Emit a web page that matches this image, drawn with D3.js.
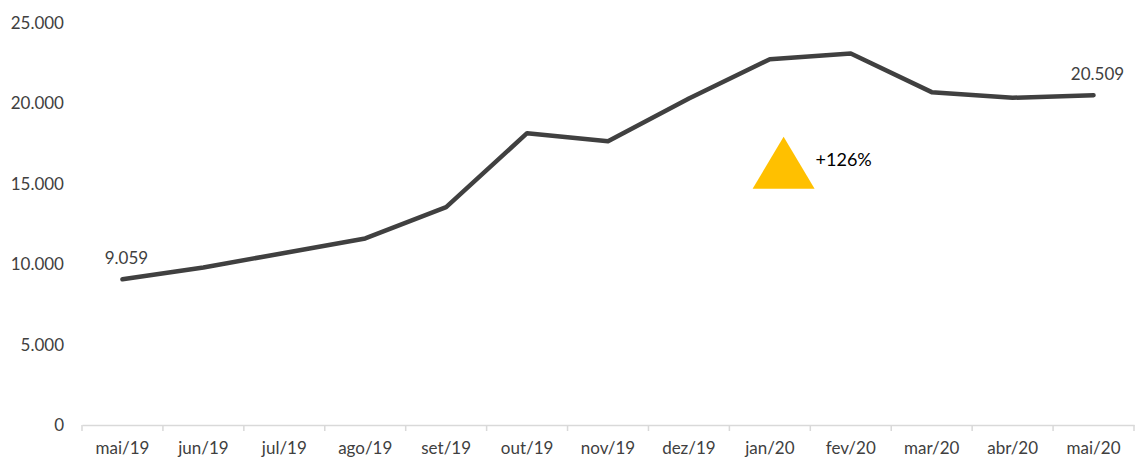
<!DOCTYPE html>
<html>
<head>
<meta charset="utf-8">
<script src="https://cdn.jsdelivr.net/npm/d3@7"></script>
<style>
  body { margin: 0; background: #fff; }
  text { font-family: Lato, "Open Sans", sans-serif; }
</style>
</head>
<body>
<div id="chart"></div>
<script>
var months = ["mai/19", "jun/19", "jul/19", "ago/19", "set/19", "out/19", "nov/19",
              "dez/19", "jan/20", "fev/20", "mar/20", "abr/20", "mai/20"]
var values = [9059, 9800, 10700, 11600, 13550, 18150, 17650,
              20300, 22750, 23100, 20700, 20350, 20509]
var yTicks = [0, 5000, 10000, 15000, 20000, 25000]
var growthLabel = "+126%"

var width = 1136, height = 457
var margin = {top: 23, right: 2, bottom: 32, left: 82}

var locale = d3.formatLocale({decimal: ",", thousands: ".", grouping: [3], currency: ["R$", ""]})
var fmt = locale.format(",d")

var svg = d3.select("#chart")
  .append("svg")
    .attr("width", width)
    .attr("height", height)

var x = d3.scaleBand()
  .domain(months)
  .range([margin.left, width - margin.right])

var y = d3.scaleLinear()
  .domain([0, 25000])
  .range([height - margin.bottom, margin.top])

// x axis: light gray baseline with ticks between categories
var xAxis = svg.append("g")
  .attr("transform", "translate(0," + y(0) + ")")
  .call(d3.axisBottom(x).tickSize(0).tickPadding(17))
xAxis.select(".domain").attr("stroke", "#d9d9d9").attr("stroke-width", 1.5)
xAxis.selectAll("text")
  .attr("fill", "#404040")
  .attr("font-size", "17px")

var bounds = months.map(function(m) { return x(m) }).concat([x.range()[1]])
xAxis.selectAll(".sep")
  .data(bounds)
  .enter()
  .append("line")
    .attr("class", "sep")
    .attr("x1", function(d) { return d })
    .attr("x2", function(d) { return d })
    .attr("y1", 0)
    .attr("y2", 6)
    .attr("stroke", "#d9d9d9")
    .attr("stroke-width", 1.5)

// y axis: labels only
var yAxis = svg.append("g")
  .attr("transform", "translate(" + (margin.left - 18) + ",0)")
  .call(d3.axisLeft(y).tickValues(yTicks).tickSize(0).tickPadding(0).tickFormat(fmt))
yAxis.select(".domain").remove()
yAxis.selectAll("text")
  .attr("fill", "#404040")
  .attr("font-size", "17px")

// line
var line = d3.line()
  .x(function(d, i) { return x(months[i]) + x.bandwidth() / 2 })
  .y(function(d) { return y(d) })

svg.append("path")
  .datum(values)
  .attr("d", line)
  .attr("fill", "none")
  .attr("stroke", "#404040")
  .attr("stroke-width", 4.5)
  .attr("stroke-linecap", "round")
  .attr("stroke-linejoin", "round")

// first and last value labels
var ends = [0, values.length - 1]
svg.selectAll(".vlabel")
  .data(ends)
  .enter()
  .append("text")
    .attr("class", "vlabel")
    .attr("x", function(i) { return x(months[i]) + x.bandwidth() / 2 + 4 })
    .attr("y", function(i) { return y(values[i]) - 15 })
    .attr("text-anchor", "middle")
    .attr("fill", "#404040")
    .attr("font-size", "17px")
    .text(function(i) { return fmt(values[i]) })

// growth marker: yellow triangle + percentage
var tx = x("jan/20") + x.bandwidth() * 0.67
var ty = y(15000) + 5
svg.append("path")
  .attr("d", "M" + tx + "," + (ty - 52) + "L" + (tx + 31) + "," + ty + "L" + (tx - 31) + "," + ty + "Z")
  .attr("fill", "#ffc000")

svg.append("text")
  .attr("x", tx + 32)
  .attr("y", ty - 23)
  .attr("fill", "#000")
  .attr("font-size", "18px")
  .text(growthLabel)
</script>
</body>
</html>
